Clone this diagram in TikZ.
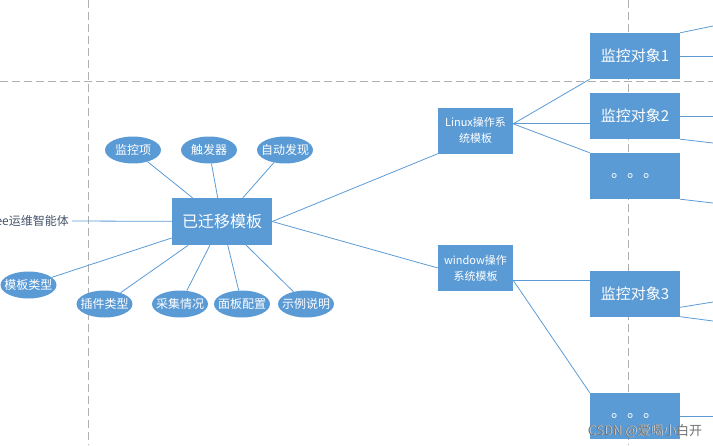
\documentclass[tikz,border=0pt]{standalone}
\usepackage{fontspec}
\setmainfont{Noto Sans CJK SC}
\usetikzlibrary{shapes.geometric}
\definecolor{boxblue}{HTML}{5B9BD5}
\definecolor{gridgray}{HTML}{B0B0B0}
\definecolor{labelgray}{HTML}{44546A}
\definecolor{markgray}{HTML}{707070}
\begin{document}
\begin{tikzpicture}
[x=1pt, y=-1pt,
 every node/.style={text=white, font=\fontsize{12}{14}\selectfont},
 box/.style={fill=boxblue, minimum width=90pt, minimum height=46pt, inner sep=0pt,
              font=\fontsize{15}{17}\selectfont},
 osbox/.style={fill=boxblue, minimum width=75pt, minimum height=46pt, inner sep=0pt,
               align=center, font=\fontsize{11}{16}\selectfont},
 bubble/.style={ellipse, fill=boxblue, minimum width=56pt, minimum height=27pt,
                inner xsep=-4.5pt, inner ysep=0pt},
 link/.style={draw=boxblue, line width=0.8pt},
 guide/.style={draw=gridgray, line width=0.8pt, dash pattern=on 8pt off 4pt}]
\useasboundingbox (0,0) rectangle (713,445);
\draw[guide] (88,0) -- (88,445);
\draw[guide] (628,0) -- (628,445);
\draw[guide] (0,81) -- (713,81);

\coordinate (rim) at (713,0);
\coordinate (r1) at (713,26);
\coordinate (r2) at (713,143);
\coordinate (r3) at (713,203);
\coordinate (r4) at (713,302);
\coordinate (r5) at (713,321);

\node[box, minimum width=100pt, minimum height=47pt, font=\fontsize{16}{18}\selectfont]
  (moved) at (222,221.5) {已迁移模板};
\node[text=labelgray, anchor=east, inner sep=0pt] (agent) at (69,221) {ee运维智能体};

\node[bubble] (items) at (133,150) {监控项};
\node[bubble] (trigger) at (209,150) {触发器};
\node[bubble] (discover) at (285,150) {自动发现};
\node[bubble] (ttype) at (28.5,285) {模板类型};
\node[bubble] (plugin) at (104.5,304) {插件类型};
\node[bubble] (collect) at (180,304) {采集情况};
\node[bubble] (panel) at (242,304) {面板配置};
\node[bubble] (sample) at (306,304) {示例说明};

\node[osbox] (linux) at (475.5,130.5) {Linux操作系\\统模板};
\node[osbox] (win) at (475.5,268) {window操作\\系统模板};

\node[box] (obj1) at (635,56) {监控对象1};
\node[box] (obj2) at (635,116) {监控对象2};
\node[box, font=\fontsize{16}{18}\selectfont] (more1) at (635,176) {。。。};
\node[box] (obj3) at (635,293.5) {监控对象3};
\node[box, font=\fontsize{16}{18}\selectfont] (more2) at (635,416) {。。。};

\draw[link] (agent.east) ++(3,0) -- (moved);
\foreach \n in {items, trigger, discover, ttype, plugin, collect, panel, sample}
  \draw[link] (\n) -- (moved);

\draw[link] (moved.east) -- (linux.south west);
\draw[link] (moved.east) -- (win.west);

\draw[link] (linux.10) -- (obj1.south west);
\draw[link] (linux.10) -- (linux.10 -| obj2.west);
\draw[link] (linux.10) -- (more1.north west);
\draw[link] (win.-18) -- (win.-18 -| obj3.west);
\draw[link] (win.-18) -- (more2.north west);

\draw[link] (obj1.north east) -- (r1);
\draw[link] (obj1.east) -- (obj1.east -| rim);
\draw[link] (obj2.east) -- (obj2.east -| rim);
\draw[link] (obj2.south east) -- (r2);
\draw[link] (more1.south east) -- (r3);
\draw[link] (obj3.-17) -- (r4);
\draw[link] (obj3.south east) -- (r5);
\draw[link] (more2.east) -- (more2.east -| rim);

\node[text=white, font=\fontsize{13}{15}\selectfont] at (645.6,431.6) {CSDN @爱喝小白开};
\node[text=markgray, font=\fontsize{13}{15}\selectfont] (mark) at (645,431) {CSDN @爱喝小白开};
\end{tikzpicture}
\end{document}
